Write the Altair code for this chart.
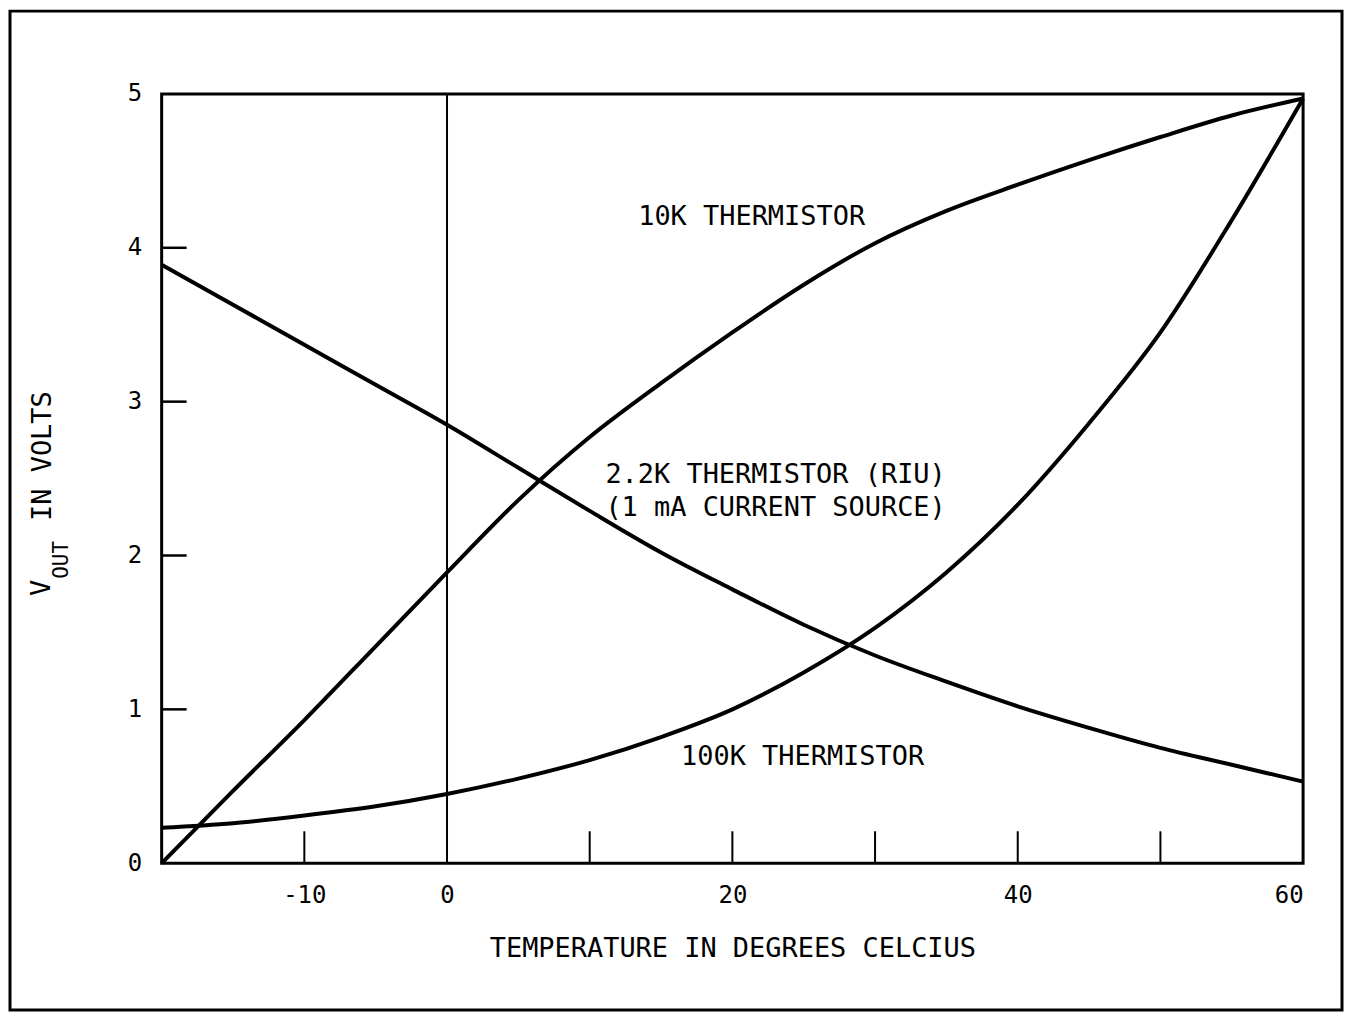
import altair as alt
import pandas as pd

FONT = "DejaVu Sans Mono"

# Temperature (deg C) sample points
temps = [-20, -15, -10, -5, 0, 5, 10, 15, 20, 25, 30, 35, 40, 45, 50, 55, 60]
# V_OUT (volts) for each curve
v_10k = [0.00, 0.47, 0.93, 1.41, 1.89, 2.36, 2.77, 3.12, 3.45, 3.76, 4.03, 4.24, 4.41, 4.57, 4.72, 4.86, 4.97]
v_22k = [3.89, 3.63, 3.37, 3.11, 2.85, 2.57, 2.29, 2.02, 1.78, 1.55, 1.35, 1.18, 1.02, 0.88, 0.75, 0.64, 0.53]
v_100k = [0.23, 0.26, 0.31, 0.37, 0.45, 0.55, 0.67, 0.82, 1.00, 1.24, 1.53, 1.89, 2.33, 2.86, 3.45, 4.18, 4.97]

x_label_values = [-10, 0, 20, 40, 60]
x_tick_values = [-10, 10, 20, 30, 40, 50]
y_label_values = [0, 1, 2, 3, 4, 5]
y_tick_values = [1, 2, 3, 4]

label_texts = ["10K THERMISTOR", "2.2K THERMISTOR (RIU)", "(1 mA CURRENT SOURCE)", "100K THERMISTOR"]
label_t = [13.4, 11.1, 11.1, 16.4]
label_v = [4.20, 2.52, 2.31, 0.69]

rows = []
for name, vals in [("10K", v_10k), ("2.2K", v_22k), ("100K", v_100k)]:
    for t, v in zip(temps, vals):
        rows.append({"series": name, "t": t, "v": v})
df = pd.DataFrame(rows)

xscale = alt.Scale(domain=[-20, 60], nice=False, zero=False)
yscale = alt.Scale(domain=[0, 5], nice=False, zero=False)

lines = alt.Chart(df).mark_line(color="black", strokeWidth=4, interpolate="monotone").encode(
    x=alt.X("t:Q", scale=xscale,
            axis=alt.Axis(values=x_label_values, labelExpr="datum.value + ''", ticks=False, domain=False,
                          grid=False, labelFont=FONT, labelFontSize=24, labelColor="black",
                          labelPadding=20, title="TEMPERATURE IN DEGREES CELCIUS",
                          titleFont=FONT, titleFontSize=27, titleFontWeight="normal",
                          titleColor="black", titlePadding=28)),
    y=alt.Y("v:Q", scale=yscale,
            axis=alt.Axis(values=y_label_values, format="d", ticks=False, domain=False, grid=False,
                          labelFont=FONT, labelFontSize=24, labelColor="black", labelPadding=20,
                          title=None)),
    detail="series:N",
)

zero_line = alt.Chart(pd.DataFrame({"t": [0]})).mark_rule(color="black", strokeWidth=2).encode(
    x=alt.X("t:Q", scale=xscale)
)

xticks = alt.Chart(pd.DataFrame({"t": x_tick_values})).mark_rule(color="black", strokeWidth=2).encode(
    x=alt.X("t:Q", scale=xscale), y=alt.value(771), y2=alt.value(739)
)

yticks = alt.Chart(pd.DataFrame({"v": y_tick_values})).mark_rule(color="black", strokeWidth=2.5).encode(
    y=alt.Y("v:Q", scale=yscale), x=alt.value(0), x2=alt.value(25)
)

labels = alt.Chart(pd.DataFrame({"text": label_texts, "t": label_t, "v": label_v})).mark_text(
    font=FONT, fontSize=27, align="left", baseline="middle", color="black"
).encode(x=alt.X("t:Q", scale=xscale), y=alt.Y("v:Q", scale=yscale), text="text:N")

one = pd.DataFrame({"a": [0]})
ytitle_v = alt.Chart(one).mark_text(font=FONT, fontSize=27, angle=270, align="center",
                                    baseline="middle", color="black", text="V").encode(
    x=alt.value(-120), y=alt.value(495))
ytitle_out = alt.Chart(one).mark_text(font=FONT, fontSize=21, angle=270, align="center",
                                      baseline="middle", color="black", text="OUT").encode(
    x=alt.value(-100), y=alt.value(467))
ytitle_rest = alt.Chart(one).mark_text(font=FONT, fontSize=27, angle=270, align="center",
                                       baseline="middle", color="black", text="IN VOLTS").encode(
    x=alt.value(-119), y=alt.value(363))

frame = alt.Chart(one).mark_rect(fill="transparent", stroke="black", strokeWidth=3).encode(
    x=alt.value(-152), x2=alt.value(1183), y=alt.value(-83), y2=alt.value(918)
)

chart = alt.layer(lines, zero_line, xticks, yticks, labels, ytitle_v, ytitle_out, ytitle_rest, frame).properties(
    width=1144, height=771,
    padding={"left": 154, "top": 85, "right": 42, "bottom": 150},
    autosize=alt.AutoSizeParams(type="none"),
    background="white",
).configure_view(stroke="black", strokeWidth=3)

chart.save("out.html", embed_options={"renderer": "svg", "actions": False})
